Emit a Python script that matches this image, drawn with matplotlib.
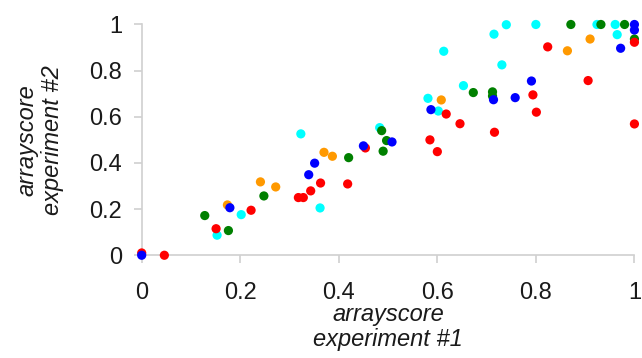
import matplotlib.pyplot as plt

plt.rcParams['font.family'] = ['Liberation Sans', 'DejaVu Sans']

# arrayscore pairs (experiment #1, experiment #2), one group per colour
red_x = [0.0, 0.046, 0.151, 0.222, 0.318, 0.328, 0.343, 0.363, 0.418, 0.454,
         0.585, 0.600, 0.618, 0.646, 0.716, 0.794, 0.801, 0.824, 0.906, 1.0, 1.0]
red_y = [0.01, 0.0, 0.115, 0.195, 0.250, 0.250, 0.279, 0.313, 0.309, 0.465,
         0.500, 0.449, 0.612, 0.570, 0.533, 0.695, 0.620, 0.903, 0.757, 0.923, 0.569]

blue_x = [0.0, 0.179, 0.339, 0.351, 0.450, 0.508, 0.587, 0.714, 0.758, 0.791,
          0.972, 1.0, 1.0]
blue_y = [0.0, 0.206, 0.349, 0.399, 0.474, 0.491, 0.631, 0.674, 0.683, 0.755,
          0.897, 1.0, 0.976]

green_x = [0.128, 0.176, 0.248, 0.420, 0.487, 0.497, 0.490, 0.673, 0.712, 0.712,
           0.871, 0.932, 0.980, 1.0]
green_y = [0.172, 0.107, 0.257, 0.423, 0.540, 0.497, 0.451, 0.705, 0.708, 0.690,
           1.0, 1.0, 1.0, 0.937]

cyan_x = [0.153, 0.202, 0.323, 0.362, 0.483, 0.581, 0.602, 0.613, 0.653, 0.715,
          0.740, 0.731, 0.800, 0.924, 0.961, 0.965]
cyan_y = [0.087, 0.176, 0.526, 0.205, 0.553, 0.680, 0.625, 0.884, 0.735, 0.958,
          0.999, 0.825, 1.0, 1.0, 1.0, 0.956]

orange_x = [0.174, 0.241, 0.272, 0.370, 0.387, 0.608, 0.864, 0.910]
orange_y = [0.218, 0.318, 0.296, 0.446, 0.429, 0.673, 0.886, 0.937]

ticks = [0, 0.2, 0.4, 0.6, 0.8, 1]
tick_labels = ['0', '0.2', '0.4', '0.6', '0.8', '1']

fig = plt.figure(figsize=(6.42, 3.58), dpi=100)
ax = fig.add_axes([0.2207, 0.287, 0.7675, 0.6446])

groups = [
    (orange_x, orange_y, '#FF9900'),
    (cyan_x, cyan_y, '#00FFFF'),
    (green_x, green_y, '#008000'),
    (red_x, red_y, '#FF0000'),
    (blue_x, blue_y, '#0000FF'),
]
for xs, ys, c in groups:
    ax.scatter(xs, ys, s=44, color=c, edgecolors='none', clip_on=False, zorder=3)

ax.set_xlim(0, 1)
ax.set_ylim(0, 1)
ax.set_xticks(ticks)
ax.set_xticklabels(tick_labels)
ax.set_yticks(ticks)
ax.set_yticklabels(tick_labels)

for side in ['top', 'right']:
    ax.spines[side].set_visible(False)
for side in ['left', 'bottom']:
    ax.spines[side].set_color('#d0d0d0')
    ax.spines[side].set_linewidth(1.2)

ax.tick_params(axis='both', colors='#d0d0d0', labelcolor='#1a1a1a',
               labelsize=17, length=6, width=1.2)
ax.tick_params(axis='y', pad=8)
ax.tick_params(axis='x', pad=13)

ax.set_xlabel('arrayscore\nexperiment #1', fontsize=17, style='italic',
              linespacing=1.15, color='#1a1a1a')
ax.set_ylabel('arrayscore\nexperiment #2', fontsize=17, style='italic',
              linespacing=1.15, color='#1a1a1a')
ax.xaxis.set_label_coords(0.5, -0.205)
ax.yaxis.set_label_coords(-0.158, 0.5)

fig.savefig('out.png', dpi=100, facecolor='white')
